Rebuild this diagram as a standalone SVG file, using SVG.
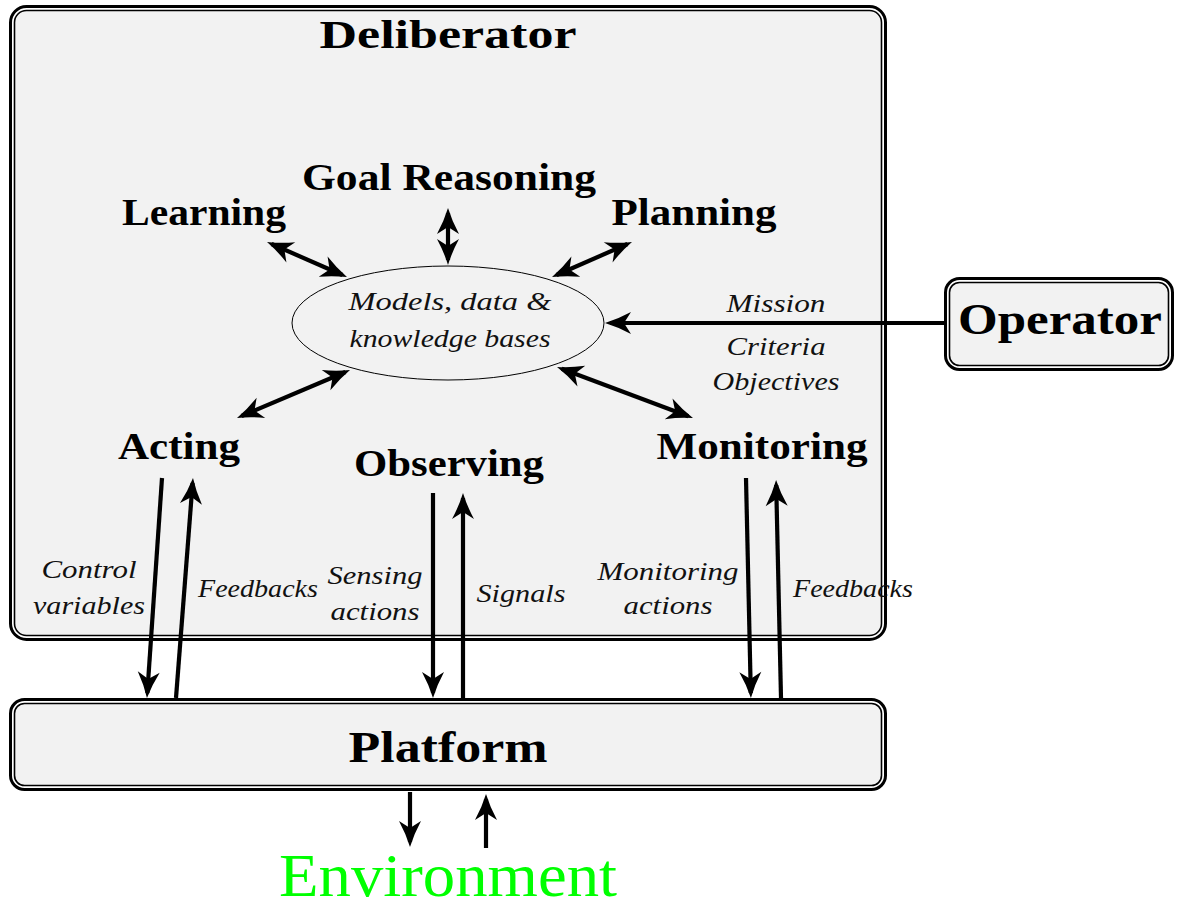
<svg xmlns="http://www.w3.org/2000/svg" width="1178" height="909" viewBox="0 0 1178 909">
<style>
.bo{fill:#fff;stroke:#000;stroke-width:3}
.bi{fill:#f2f2f2;stroke:#000;stroke-width:1.6}
.nb{font-family:"Liberation Serif",serif;font-weight:bold;fill:#000;text-anchor:middle}
.lbl{font-family:"Liberation Serif",serif;font-style:italic;fill:#111;text-anchor:middle;font-size:25px}
.ar{fill:none;stroke:#000;stroke-width:4.2}
</style>
<defs>
<marker id="ah" viewBox="-28 -12 29 24" refX="-5" refY="0" markerWidth="29" markerHeight="24" markerUnits="userSpaceOnUse" orient="auto-start-reverse" overflow="visible">
<path d="M0,0 Q-13,-4 -26,-11 L-19,0 L-26,11 Q-13,4 0,0 Z" fill="#000"/>
</marker>
</defs>
<rect width="1178" height="909" fill="#fff"/>
<g id="deliberator">
<rect class="bo" x="10.5" y="6.5" width="875" height="633" rx="16"/>
<rect class="bi" x="14.5" y="10.5" width="867" height="625" rx="12"/>
<text class="nb" x="448" y="48" font-size="40" textLength="257" lengthAdjust="spacingAndGlyphs">Deliberator</text>
</g>
<g id="platform">
<rect class="bo" x="10.5" y="699.5" width="875" height="90" rx="14"/>
<rect class="bi" x="14.5" y="703.5" width="867" height="82" rx="10"/>
<text class="nb" x="448" y="762" font-size="44" textLength="199" lengthAdjust="spacingAndGlyphs">Platform</text>
</g>
<g id="operator">
<rect class="bo" x="945.5" y="278.5" width="227" height="91" rx="14"/>
<rect class="bi" x="949.5" y="282.5" width="219" height="83" rx="10"/>
<text class="nb" x="1060" y="334" font-size="44" textLength="204" lengthAdjust="spacingAndGlyphs">Operator</text>
</g>
<g id="kb">
<ellipse cx="448" cy="323" rx="156" ry="57" fill="none" stroke="#000" stroke-width="1"/>
<text class="lbl" x="450" y="310" textLength="203" lengthAdjust="spacingAndGlyphs">Models, data &amp;</text>
<text class="lbl" x="450" y="347" textLength="201" lengthAdjust="spacingAndGlyphs">knowledge bases</text>
</g>
<g id="goal"><text class="nb" x="449" y="190" font-size="38" textLength="294" lengthAdjust="spacingAndGlyphs">Goal Reasoning</text></g>
<g id="learning"><text class="nb" x="204" y="225" font-size="38" textLength="164" lengthAdjust="spacingAndGlyphs">Learning</text></g>
<g id="planning"><text class="nb" x="694" y="225" font-size="38" textLength="165" lengthAdjust="spacingAndGlyphs">Planning</text></g>
<g id="acting"><text class="nb" x="179" y="459" font-size="38" textLength="122" lengthAdjust="spacingAndGlyphs">Acting</text></g>
<g id="observing"><text class="nb" x="449" y="476" font-size="38" textLength="190" lengthAdjust="spacingAndGlyphs">Observing</text></g>
<g id="monitoring"><text class="nb" x="762" y="459" font-size="38" textLength="211" lengthAdjust="spacingAndGlyphs">Monitoring</text></g>
<g id="environment"><text x="448" y="896" font-family="Liberation Serif, serif" font-size="62" fill="#00ff00" text-anchor="middle" textLength="338" lengthAdjust="spacingAndGlyphs">Environment</text></g>
<g id="connectors">
<path class="ar" d="M271.6,244 L342.4,275" marker-start="url(#ah)" marker-end="url(#ah)"/>
<path class="ar" d="M448,213 L448,260" marker-start="url(#ah)" marker-end="url(#ah)"/>
<path class="ar" d="M627.4,244 L556.6,275" marker-start="url(#ah)" marker-end="url(#ah)"/>
<path class="ar" d="M241.6,416 L345.4,372" marker-start="url(#ah)" marker-end="url(#ah)"/>
<path class="ar" d="M688.3,416.2 L561.7,368.8" marker-start="url(#ah)" marker-end="url(#ah)"/>
<path class="ar" d="M944,323 L610,323" marker-end="url(#ah)"/>
<path class="ar" d="M162,478 L147.3,693" marker-end="url(#ah)"/>
<path class="ar" d="M176,698 L192.6,483" marker-end="url(#ah)"/>
<path class="ar" d="M433,493 L433,693" marker-end="url(#ah)"/>
<path class="ar" d="M463,698 L463,498" marker-end="url(#ah)"/>
<path class="ar" d="M746,478 L750.8,693" marker-end="url(#ah)"/>
<path class="ar" d="M781,698 L776.2,485" marker-end="url(#ah)"/>
<path class="ar" d="M410,792 L410,842" marker-end="url(#ah)"/>
<path class="ar" d="M486,848 L486,799" marker-end="url(#ah)"/>
</g>
<g id="labels">
<text class="lbl" x="776" y="312" textLength="99" lengthAdjust="spacingAndGlyphs">Mission</text>
<text class="lbl" x="776" y="355" textLength="99" lengthAdjust="spacingAndGlyphs">Criteria</text>
<text class="lbl" x="776" y="390" textLength="127" lengthAdjust="spacingAndGlyphs">Objectives</text>
<text class="lbl" x="89" y="578" textLength="95" lengthAdjust="spacingAndGlyphs">Control</text>
<text class="lbl" x="89" y="614" textLength="112" lengthAdjust="spacingAndGlyphs">variables</text>
<text class="lbl" x="258" y="597" textLength="120" lengthAdjust="spacingAndGlyphs">Feedbacks</text>
<text class="lbl" x="375" y="584" textLength="95" lengthAdjust="spacingAndGlyphs">Sensing</text>
<text class="lbl" x="375" y="620" textLength="89" lengthAdjust="spacingAndGlyphs">actions</text>
<text class="lbl" x="521" y="602" textLength="89" lengthAdjust="spacingAndGlyphs">Signals</text>
<text class="lbl" x="668" y="580" textLength="141" lengthAdjust="spacingAndGlyphs">Monitoring</text>
<text class="lbl" x="668" y="614" textLength="89" lengthAdjust="spacingAndGlyphs">actions</text>
<text class="lbl" x="853" y="597" textLength="120" lengthAdjust="spacingAndGlyphs">Feedbacks</text>
</g>
</svg>
